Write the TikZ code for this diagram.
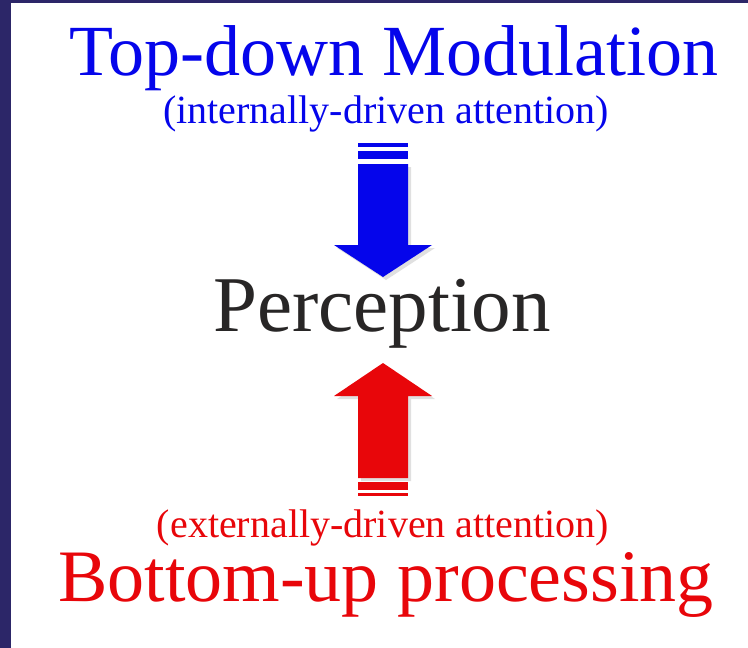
\documentclass[tikz,border=0pt]{standalone}
\usepackage{fontspec}
\setmainfont{Liberation Serif}
\usetikzlibrary{positioning}
\definecolor{frame}{RGB}{44,38,104}
\definecolor{topblue}{RGB}{5,5,235}
\definecolor{botred}{RGB}{232,6,10}
\definecolor{ink}{RGB}{40,38,38}

\begin{document}
\begin{tikzpicture}[x=1pt,y=-1pt,
  big/.style={inner sep=0pt,anchor=base,font=\fontsize{72}{76}\selectfont},
  small/.style={inner sep=0pt,anchor=base,font=\fontsize{40}{44}\selectfont},
  mid/.style={inner sep=0pt,anchor=base,font=\fontsize{79}{83}\selectfont}]
  % frame
  \fill[frame] (0,0) rectangle (748,648);
  \fill[white] (11,3) rectangle (748,648);
  \useasboundingbox (0,0) rectangle (748,648);

  % texts
  \node[big,text=topblue] (title) at (394,75) {Top-down Modulation};
  \node[small,text=topblue] (subtop) at (386,123) {(internally-driven attention)};
  \node[mid,text=ink] (percep) at (382,331) {Perception};
  \node[small,text=botred] (subbot) at (383,537) {(externally-driven attention)};
  \node[big,text=botred,font=\fontsize{74}{78}\selectfont] (bottom) at (386,601) {Bottom-up processing};

  % down arrow
  \fill[black!12] (361,167) -- (411,167) -- (411,248) -- (435,248) -- (386,280) -- (337,248) -- (361,248) -- cycle;
  \fill[topblue] (358,164) -- (408,164) -- (408,245) -- (432,245) -- (383,277) -- (334,245) -- (358,245) -- cycle;
  \foreach \a/\b in {143/147, 151/159}
    \fill[topblue] (358,\a) rectangle (408,\b);

  % up arrow
  \fill[black!12] (386,366) -- (435,399) -- (411,399) -- (411,481) -- (361,481) -- (361,399) -- (337,399) -- cycle;
  \fill[botred] (383,363) -- (432,396) -- (408,396) -- (408,478) -- (358,478) -- (358,396) -- (334,396) -- cycle;
  \foreach \a/\b in {482/490, 493/496}
    \fill[botred] (358,\a) rectangle (408,\b);
\end{tikzpicture}
\end{document}
